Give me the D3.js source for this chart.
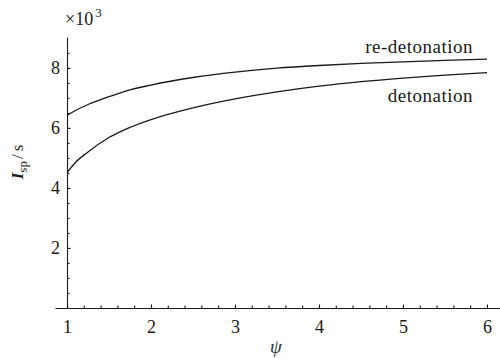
<!DOCTYPE html>
<html>
<head>
<meta charset="utf-8">
<script src="https://cdn.jsdelivr.net/npm/d3@7"></script>
<style>
  html, body { margin: 0; padding: 0; background: #fff; }
  svg { display: block; }
</style>
</head>
<body>
<svg id="chart" width="500" height="359"></svg>
<script>
// specific impulse vs. psi, in units of 10^3 s
const psi = [1, 1.1, 1.25, 1.5, 1.75, 2, 2.5, 3, 3.5, 4, 4.5, 5, 5.5, 6];
const reDetonation = [6.42, 6.58, 6.78, 7.04, 7.27, 7.43, 7.68, 7.86, 7.99, 8.08, 8.15, 8.2, 8.25, 8.29];
const detonation = [4.51, 4.85, 5.2, 5.68, 6.02, 6.28, 6.67, 6.97, 7.2, 7.39, 7.54, 7.66, 7.76, 7.84];
const xMajorTicks = [1, 2, 3, 4, 5, 6];
const yMajorTicks = [2, 4, 6, 8];

const FONT = "'Liberation Serif'";
const INK = "#1a1a1a";

const svg = d3.select("#chart");
const x = d3.scaleLinear().domain([0.857, 6.155]).range([55, 500]);
const y = d3.scaleLinear().domain([0, 9.03]).range([308, 37]);

const xMinor = d3.range(1, 6.001, 0.2);
const yMinor = d3.range(0.5, 8.6, 0.5);

// x axis: line spanning the full width, ticks pointing up
const gx = svg.append("g").attr("transform", `translate(0,${y(0)})`);
gx.call(d3.axisBottom(x).tickValues(xMinor).tickSizeInner(-2.5).tickSizeOuter(0).tickFormat(""));
gx.append("g").call(d3.axisBottom(x).tickValues(xMajorTicks).tickSizeInner(-3.5).tickSizeOuter(0)
  .tickPadding(12).tickFormat(d3.format("d")))
  .select(".domain").remove();

// y axis at psi = 1, ticks pointing right
const gy = svg.append("g").attr("transform", `translate(${x(1)},0)`);
gy.call(d3.axisLeft(y).tickValues(yMinor).tickSizeInner(-2.5).tickSizeOuter(0).tickFormat(""));
gy.append("g").call(d3.axisLeft(y).tickValues(yMajorTicks).tickSizeInner(-3.5).tickSizeOuter(0)
  .tickPadding(7).tickFormat(d3.format("d")))
  .select(".domain").remove();

svg.selectAll(".domain, .tick line").attr("stroke", INK).attr("stroke-width", 1.1);
svg.selectAll(".tick text")
  .attr("font-family", FONT).attr("font-size", 18).attr("fill", INK);

// curves
const line = d3.line()
  .x((d, i) => x(psi[i]))
  .y(d => y(d))
  .curve(d3.curveMonotoneX);

[reDetonation, detonation].forEach(series => {
  svg.append("path")
    .datum(series)
    .attr("d", line)
    .attr("fill", "none")
    .attr("stroke", INK)
    .attr("stroke-width", 1.3);
});

// curve labels
svg.append("text").attr("x", 473).attr("y", 52.5).attr("text-anchor", "end")
  .attr("font-family", FONT).attr("font-size", 19).attr("letter-spacing", 0.5)
  .attr("fill", INK).text("re-detonation");
svg.append("text").attr("x", 473).attr("y", 101.5).attr("text-anchor", "end")
  .attr("font-family", FONT).attr("font-size", 19).attr("letter-spacing", 0.5)
  .attr("fill", INK).text("detonation");

// scale factor above the y axis
const sf = svg.append("text").attr("x", 65).attr("y", 25)
  .attr("font-family", FONT).attr("font-size", 18).attr("fill", INK);
sf.append("tspan").text("×10");
sf.append("tspan").attr("dx", 2).attr("dy", -8).attr("font-size", 13).text("3");

// y axis title
const yt = svg.append("text")
  .attr("transform", "translate(23,162) rotate(-90)")
  .attr("text-anchor", "middle")
  .attr("font-family", FONT).attr("font-size", 17).attr("fill", INK);
yt.append("tspan").attr("font-style", "italic").attr("font-weight", "bold").text("I");
yt.append("tspan").attr("dy", 4).attr("font-size", 13).text("sp");
yt.append("tspan").attr("dy", -4).attr("dx", 2).text("/");
yt.append("tspan").attr("dx", 3).text("s");

// x axis title
svg.append("text").attr("x", 276).attr("y", 353).attr("text-anchor", "middle")
  .attr("font-family", FONT).attr("font-style", "italic").attr("font-size", 19)
  .attr("fill", "#333").text("ψ");
</script>
</body>
</html>
